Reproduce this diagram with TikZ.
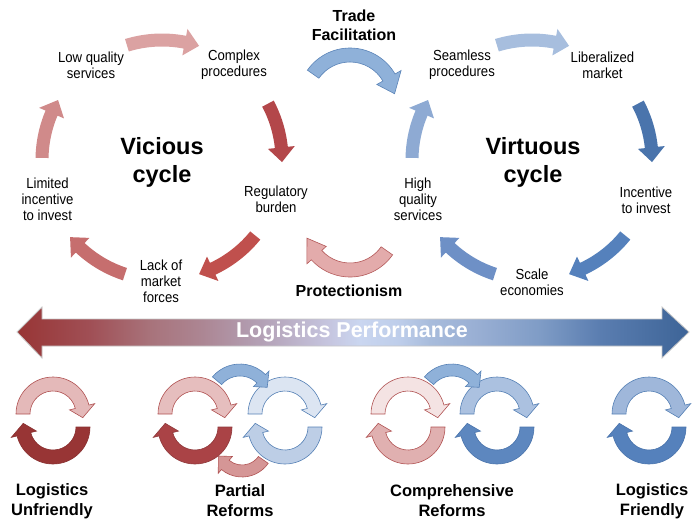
\documentclass[tikz,border=0pt]{standalone}
\usepackage{fontspec}
\setmainfont{Liberation Sans}
\newfontfamily\narrowfont[FakeStretch=0.9]{Liberation Sans}
\definecolor{vA}{HTML}{DBA2A2}
\definecolor{vB}{HTML}{B3474A}
\definecolor{vC}{HTML}{C0504D}
\definecolor{vD}{HTML}{C66E6E}
\definecolor{vE}{HTML}{D08A8A}
\definecolor{uA}{HTML}{A7BEDE}
\definecolor{uB}{HTML}{4A74AC}
\definecolor{uC}{HTML}{5581BC}
\definecolor{uD}{HTML}{6E90C6}
\definecolor{uE}{HTML}{8EAAD3}
\definecolor{tfc}{HTML}{8FB1D9}
\definecolor{tfd}{HTML}{5B84B8}
\definecolor{prc}{HTML}{E3ABAB}
\definecolor{prd}{HTML}{B45A5A}
\definecolor{redline}{HTML}{B05252}
\definecolor{blueline}{HTML}{5580B5}
\definecolor{pA}{HTML}{983535}
\definecolor{pB}{HTML}{A04F55}
\definecolor{pC}{HTML}{A8737B}
\definecolor{pD}{HTML}{AC8592}
\definecolor{pE}{HTML}{B3A0B5}
\definecolor{pF}{HTML}{C6C6E0}
\definecolor{pG}{HTML}{CAD6F0}
\definecolor{pH}{HTML}{BDCDEA}
\definecolor{pI}{HTML}{A8BCDC}
\definecolor{pJ}{HTML}{98AED3}
\definecolor{pK}{HTML}{7F9CC6}
\definecolor{pL}{HTML}{5A7DB0}
\definecolor{pM}{HTML}{3D6497}
\pgfdeclarehorizontalshading{perf}{100bp}{color(0bp)=(pA); color(25bp)=(pA); color(30.4bp)=(pB); color(34.9bp)=(pC); color(38.6bp)=(pD); color(43.1bp)=(pE); color(48.3bp)=(pF); color(50.5bp)=(pG); color(53.5bp)=(pH); color(55.7bp)=(pI); color(59.4bp)=(pJ); color(63.9bp)=(pK); color(68.4bp)=(pL); color(75bp)=(pM); color(100bp)=(pM)}
\newcommand\carrHX{6.5}
% centre x, centre y (pixels, down), radius, width, start angle, head-base angle, tip angle, style
\newcommand\carr[8]{%
  \pgfmathsetmacro\cRo{#3+#4/2}%
  \pgfmathsetmacro\cRi{#3-#4/2}%
  \pgfmathsetmacro\cHo{#3+#4/2+\carrHX}%
  \pgfmathsetmacro\cHi{#3-#4/2-\carrHX}%
  \path[#8] ([shift={(#1,-#2)}]#5:\cRo pt) arc[start angle=#5, end angle=#6, radius=\cRo pt]
    -- ([shift={(#1,-#2)}]#6:\cHo pt) -- ([shift={(#1,-#2)}]#7:#3pt)
    -- ([shift={(#1,-#2)}]#6:\cHi pt) -- ([shift={(#1,-#2)}]#6:\cRi pt)
    arc[start angle=#6, end angle=#5, radius=\cRi pt] -- cycle;}
% small cycle pair: centre x, top fill, top line, bottom fill, bottom line
\newcommand\cyclepair[5]{%
  \carr{#1}{414}{30}{14}{180}{14}{-7}{fill=#2, draw=#3, line width=0.6pt}%
  \carr{#1}{427}{30}{14}{0}{-166}{-187}{fill=#4, draw=#5, line width=0.6pt}}
\tikzset{
  lbl/.style={font=\narrowfont\fontsize{14.6}{16}\selectfont, align=center, inner sep=0pt},
  ttl/.style={font=\fontsize{23.5}{28}\selectfont\bfseries, align=center, inner sep=0pt},
  mid/.style={font=\fontsize{16}{19}\selectfont\bfseries, align=center, inner sep=0pt},
  bot/.style={font=\fontsize{16.5}{20}\selectfont\bfseries, align=center, inner sep=0pt},
}
\begin{document}
\begin{tikzpicture}[x=1pt,y=1pt]
\useasboundingbox (0,0) rectangle (700,-530);
% ---- vicious cycle arrows
\renewcommand\carrHX{7}
\carr{162}{160}{120}{13}{107}{79}{72}{fill=vA}
\carr{162}{160}{120}{13}{28}{6}{-1}{fill=vB}
\carr{162}{160}{120}{13}{-39}{-65}{-72}{fill=vC}
\carr{162}{160}{120}{13}{-108}{-133}{-140}{fill=vD}
\carr{162}{160}{120}{13}{179}{157}{150}{fill=vE}
% ---- virtuous cycle arrows
\carr{532}{160}{120}{13}{107}{79}{72}{fill=uA}
\carr{532}{160}{120}{13}{28}{6}{-1}{fill=uB}
\carr{532}{160}{120}{13}{-39}{-65}{-72}{fill=uC}
\carr{532}{160}{120}{13}{-108}{-133}{-140}{fill=uD}
\carr{532}{160}{120}{13}{179}{157}{150}{fill=uE}
% ---- trade facilitation / protectionism
\renewcommand\carrHX{7}
\carr{350}{100}{45}{14}{145}{30}{8}{fill=tfc, draw=tfd, line width=0.6pt}
\renewcommand\carrHX{6}
\carr{350}{225}{45}{14}{-35}{-138}{-163}{fill=prc, draw=prd, line width=0.6pt}
% ---- labels
\node[lbl] (lq) at (91,-65) {Low quality\\services};
\node[lbl] (cp) at (234,-65) {Complex\\procedures};
\node[lbl] (rb) at (276,-199) {Regulatory\\burden};
\node[lbl] (lm) at (161,-281) {Lack of\\market\\forces};
\node[lbl] (li) at (47.5,-199) {Limited\\incentive\\to invest};
\node[ttl] (vc) at (162,-162) {Vicious\\cycle};
\node[lbl] (sp) at (462,-65) {Seamless\\procedures};
\node[lbl] (lmk) at (602.5,-65) {Liberalized\\market};
\node[lbl] (ii) at (646,-200) {Incentive\\to invest};
\node[lbl] (se) at (532,-282) {Scale\\economies};
\node[lbl] (hq) at (418,-199) {High\\quality\\services};
\node[ttl] (vt) at (533,-162) {Virtuous\\cycle};
\node[mid] (tf) at (354,-25.5) {Trade\\Facilitation};
\node[mid] (pr) at (349,-291) {Protectionism};
% ---- performance bar
\shadedraw[shading=perf, draw=black!22, line width=0.8pt]
  (17,-332) -- (42,-307) -- (42,-319) -- (662,-319) -- (662,-307) -- (689,-332)
  -- (662,-358) -- (662,-346) -- (42,-346) -- (42,-358) -- cycle;
\node[font=\fontsize{21.5}{24}\selectfont\bfseries, text=white, inner sep=0pt] (lp) at (352,-332) {Logistics Performance};
% ---- small cycles
\cyclepair{53}{vA!75}{redline}{pA}{pA!90!black}
\cyclepair{195}{vA!70}{redline}{vB!95!black}{vB!80!black}
\cyclepair{285}{uA!40}{blueline}{uA!75}{blueline}
\cyclepair{408}{vA!30}{redline}{vA!85}{redline}
\cyclepair{497}{uA!95}{blueline}{uC!95}{uB}
\cyclepair{649}{uE!85}{blueline}{uC}{uB}
\renewcommand\carrHX{5}
\carr{240}{400}{30}{12}{140}{45}{25}{fill=tfc, draw=blueline, line width=0.6pt}
\carr{242}{445}{26}{12}{-35}{-130}{-155}{fill=vE!90, draw=redline, line width=0.6pt}
\carr{452}{400}{30}{12}{140}{45}{25}{fill=tfc, draw=blueline, line width=0.6pt}
% ---- bottom labels
\node[bot] (lu) at (52,-501) {Logistics\\Unfriendly};
\node[bot] (pf) at (240,-501) {Partial\\Reforms};
\node[bot] (cr) at (452,-501) {Comprehensive\\Reforms};
\node[bot] (lf) at (652,-501) {Logistics\\Friendly};
\end{tikzpicture}
\end{document}
